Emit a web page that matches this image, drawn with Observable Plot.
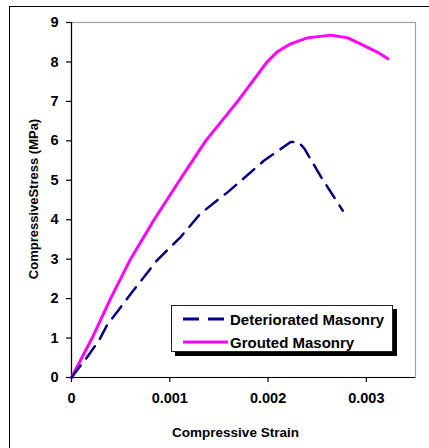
<!DOCTYPE html>
<html>
<head>
<meta charset="utf-8">
<script src="https://cdn.jsdelivr.net/npm/d3@7"></script>
<script src="https://cdn.jsdelivr.net/npm/@observablehq/plot@0.6"></script>
<style>
  html, body { margin: 0; padding: 0; background: #fff; }
  #wrap { position: relative; width: 429px; height: 448px; overflow: hidden; font-family: "Liberation Sans", Arial, sans-serif; }
  #border { position: absolute; left: 9px; top: 6px; right: -5px; bottom: -5px; border-left: 1px solid #000; border-top: 1px solid #000; pointer-events: none; }
  #legend { position: absolute; left: 171px; top: 305px; width: 220px; height: 45px; border: 1px solid #222; background: #fff; box-shadow: 4px 4px 0 #000; }
  .item { position: absolute; left: 0; height: 20px; display: flex; align-items: center; font-weight: bold; font-size: 15px; color: #000; white-space: nowrap; }
  .item svg { margin-left: 10px; margin-right: 1px; }
</style>
</head>
<body>
<div id="wrap">
  <div id="chart"></div>
  <div id="border"></div>
  <div id="legend"></div>
</div>
<script>
// Deteriorated Masonry: strain, stress (MPa)
const detStrain = [0, 0.00016, 0.00028, 0.00036, 0.0006, 0.00087, 0.00111, 0.00131, 0.00159, 0.00196, 0.00223, 0.00231, 0.00237, 0.00254, 0.00276];
const detStress = [0, 0.52, 0.94, 1.32, 2.11, 2.97, 3.56, 4.15, 4.70, 5.50, 5.97, 5.97, 5.80, 5.08, 4.23];
// Grouted Masonry
const grStrain = [0, 0.00021, 0.000397, 0.0006, 0.00084, 0.0011, 0.001365, 0.00169, 0.00199, 0.00209, 0.00223, 0.0024, 0.00264, 0.00281, 0.00294, 0.00311, 0.00322];
const grStress = [0, 1.0, 2.0, 3.0, 4.0, 5.0, 6.0, 7.0, 8.0, 8.25, 8.46, 8.61, 8.68, 8.61, 8.46, 8.25, 8.08];

const xTicks = [0, 0.001, 0.002, 0.003];
const xTickLabels = ["0", "0.001", "0.002", "0.003"];
const yTicks = [0, 1, 2, 3, 4, 5, 6, 7, 8, 9];
const seriesNames = ["Deteriorated Masonry", "Grouted Masonry"];
const seriesColors = ["#000080", "#ff00ff"];
const xTitle = "Compressive Strain";
const yTitle = "CompressiveStress (MPa)";

const det = detStrain.map((x, i) => ({x, y: detStress[i]}));
const gr = grStrain.map((x, i) => ({x, y: grStress[i]}));

const chart = Plot.plot({
  width: 429,
  height: 448,
  marginLeft: 71,
  marginTop: 22,
  marginRight: 14,
  marginBottom: 71,
  style: {fontFamily: "'Liberation Sans', Arial, sans-serif", fontSize: "14px", fontWeight: "bold", color: "#000", background: "transparent"},
  x: {domain: [0, 0.0035]},
  y: {domain: [0, 9]},
  marks: [
    Plot.frame({stroke: "#a0a0a0", strokeWidth: 1.2}),
    Plot.ruleX([0], {stroke: "#000", strokeWidth: 1.2}),
    Plot.ruleY([0], {stroke: "#000", strokeWidth: 1.2}),
    Plot.axisX({ticks: xTicks, tickFormat: d => xTickLabels[xTicks.indexOf(d)], tickSize: 5, tickPadding: 10, label: null, stroke: "#000", strokeWidth: 1.2, fill: "#000", fontSize: 14.5}),
    Plot.axisY({ticks: yTicks, tickFormat: d => String(d), tickSize: 5, tickPadding: 8, label: null, stroke: "#000", strokeWidth: 1.2, fill: "#000", fontSize: 14.5}),
    Plot.line(gr, {x: "x", y: "y", stroke: seriesColors[1], strokeWidth: 3, strokeLinejoin: "round", strokeLinecap: "round"}),
    Plot.line(det, {x: "x", y: "y", stroke: seriesColors[0], strokeWidth: 2.5, strokeDasharray: "15,9", strokeLinejoin: "round", strokeLinecap: "round"}),
    Plot.text([xTitle], {frameAnchor: "bottom", dy: 59, dx: -8, textAnchor: "middle", fontSize: 13.5, fontWeight: "bold", fill: "#000"}),
    Plot.text([yTitle], {frameAnchor: "left", dx: -38, dy: -1, textAnchor: "middle", rotate: -90, fontSize: 13, fontWeight: "bold", fill: "#000"})
  ]
});
document.getElementById("chart").appendChild(chart);

// legend
const legend = document.getElementById("legend");
seriesNames.forEach((name, i) => {
  const item = document.createElement("div");
  item.className = "item";
  item.style.top = (i === 0 ? 3 : 26) + "px";
  const ns = "http://www.w3.org/2000/svg";
  const svg = document.createElementNS(ns, "svg");
  svg.setAttribute("width", 47);
  svg.setAttribute("height", 20);
  const ln = document.createElementNS(ns, "line");
  ln.setAttribute("x1", 1);
  ln.setAttribute("x2", i === 0 ? 43 : 46);
  ln.setAttribute("y1", 10);
  ln.setAttribute("y2", 10);
  ln.setAttribute("stroke", seriesColors[i]);
  ln.setAttribute("stroke-width", i === 0 ? 2.8 : 3);
  if (i === 0) ln.setAttribute("stroke-dasharray", "16,9");
  svg.appendChild(ln);
  item.appendChild(svg);
  const t = document.createElement("span");
  t.textContent = name;
  item.appendChild(t);
  legend.appendChild(item);
});
</script>
</body>
</html>
